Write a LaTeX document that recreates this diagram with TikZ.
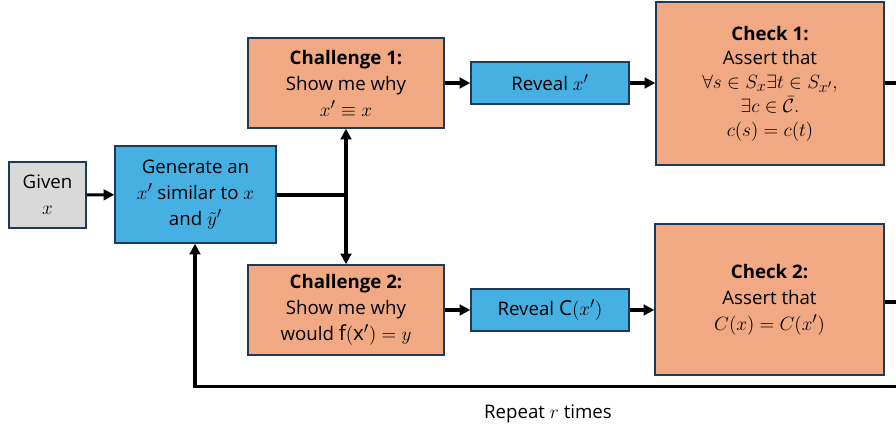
\documentclass[tikz,border=0pt]{standalone}
\usepackage{fontspec}
\setmainfont{Open Sans}
\usepackage{amsmath,amssymb}
\DeclareMathSizes{14}{15.5}{11.5}{9}
\usetikzlibrary{arrows.meta}
\definecolor{boxorange}{HTML}{F1A983}
\definecolor{boxblue}{HTML}{45B0E1}
\definecolor{boxgray}{HTML}{D9D9D9}
\definecolor{boxedge}{HTML}{1E3A56}
\tikzset{
  px/.style={x=0.75pt,y=-0.75pt},
  box/.style={draw=boxedge,line width=1.1pt,inner sep=0pt,align=center,
    font=\fontsize{14}{19.5}\selectfont},
  orangebox/.style={box,fill=boxorange},
  bluebox/.style={box,fill=boxblue},
  graybox/.style={box,fill=boxgray},
  conn/.style={line width=2.3pt,-{Triangle[length=8pt,width=8pt]}},
  bothconn/.style={line width=2.3pt,{Triangle[length=8pt,width=8pt]}-{Triangle[length=8pt,width=8pt]}},
  plain/.style={line width=2.3pt}
}
\begin{document}
\begin{tikzpicture}[px]
\useasboundingbox (0,0) rectangle (896,431);
\node[graybox,minimum width=57.75pt,minimum height=49.5pt] (given) at (47.5,195) {Given\\$x$};
\node[bluebox,minimum width=120.75pt,minimum height=72.75pt] (gen) at (195.5,194.5) {Generate an\\$x'$ similar to $x$\\and $\tilde{y}'$};
\node[orangebox,minimum width=147pt,minimum height=67.5pt] (c1) at (346,83) {\textbf{Challenge 1:}\\Show me why\\$x'\equiv x$};
\node[orangebox,minimum width=147pt,minimum height=67.5pt] (c2) at (346,310) {\textbf{Challenge 2:}\\Show me why\\would $\mathrm{f}(\mathrm{x}')=y$};
\node[bluebox,minimum width=118.5pt,minimum height=31.5pt] (r1) at (550,83) {Reveal $x'$};
\node[bluebox,minimum width=118.5pt,minimum height=31.5pt] (r2) at (550,310) {Reveal $\mathrm{C}(x')$};
\node[orangebox,minimum width=171pt,minimum height=122.25pt,font=\fontsize{14}{18}\selectfont] (k1) at (770,83.5) {\textbf{Check 1:}\\Assert that\\$\forall s\in S_x\exists t\in S_{x'},$\\$\exists c\in\bar{\mathcal{C}}.$\\$c(s)=c(t)$};
\node[orangebox,minimum width=171.75pt,minimum height=113.25pt] (k2) at (769.5,299.5) {\textbf{Check 2:}\\Assert that\\$C(x)=C(x')$};
\coordinate (split) at (346,195);
\coordinate (e1) at (896,83);
\coordinate (e2) at (896,302);
\coordinate (lb) at (195,386.5);
\coordinate (rb) at (896,386.5);
\node[font=\fontsize{14}{17}\selectfont,anchor=center] (rep) at (548,414) {Repeat $r$ times};
\draw[conn] (given) -- (gen);
\draw[plain] (gen.east |- split) -- (split);
\draw[bothconn] (c1.south) -- (c2.north);
\draw[conn] (c1) -- (r1);
\draw[conn] (c2) -- (r2);
\draw[conn] (r1) -- (k1.west |- r1);
\draw[conn] (r2) -- (k2.west |- r2);
\draw[plain] (k1.east |- e1) -- (e1);
\draw[plain] (k2.east |- e2) -- (e2);
\draw[conn] (rb) -- (lb) -- (gen.south -| lb);
\end{tikzpicture}
\end{document}
